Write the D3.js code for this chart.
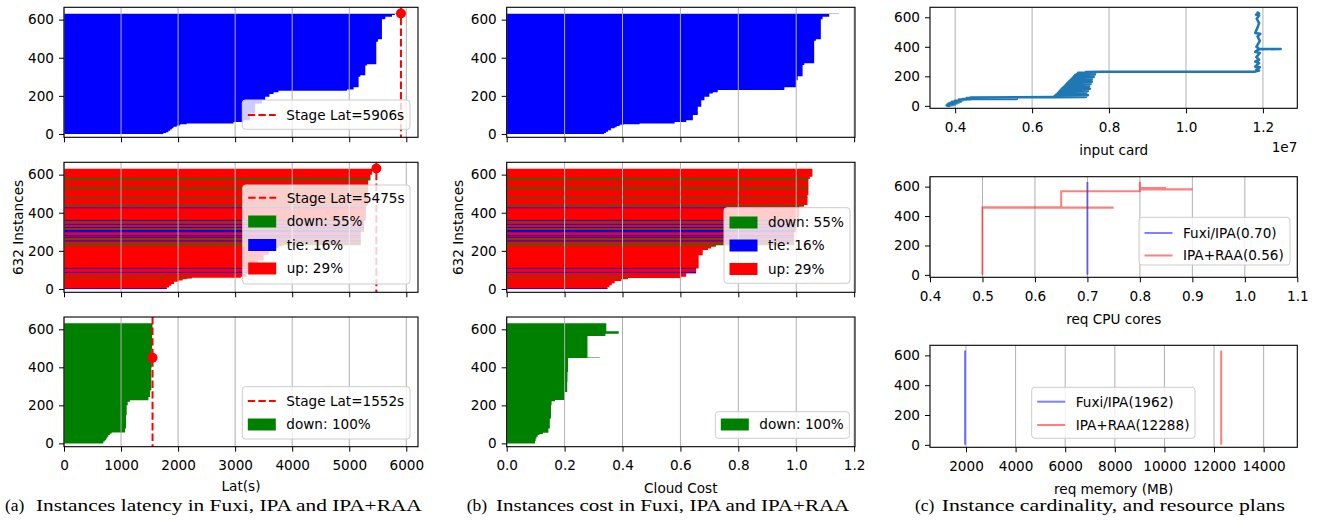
<!DOCTYPE html>
<html><head><meta charset="utf-8">
<script src="https://cdn.jsdelivr.net/npm/d3@7"></script>
<style>body{margin:0;background:#fff}</style>
</head><body><svg id="c" width="1322" height="520" style="background:#fff"></svg>
<script>
// ---------------- DATA ----------------
const N = 632;
const yTicks = [0, 200, 400, 600];
const latTicks = [0, 1000, 2000, 3000, 4000, 5000, 6000];
const costTicks = [0, 0.2, 0.4, 0.6, 0.8, 1.0, 1.2];
const cardTicks = [0.4, 0.6, 0.8, 1.0, 1.2];
const cpuTicks = [0.4, 0.5, 0.6, 0.7, 0.8, 0.9, 1.0, 1.1];
const memTicks = [2000, 4000, 6000, 8000, 10000, 12000, 14000];

// step profiles: [first instance index, bar value] (holds until next entry)
const fuxiLat = [[0,1743],[5,1790],[10,1830],[17,1860],[24,1890],[30,1918],[38,1977],[45,2035],[51,2152],[56,2971],[63,3146],[73,3263],[108,3351],[161,3468],[178,3526],[196,3602],[210,3673],[219,3760],[227,4959],[234,5076],[245,5164],[301,5193],[308,5281],[360,5310],[367,5474],[485,5503],[497,5573],[602,5632],[616,5749],[625,5800],[630,5836],[631,5906]];
const ipaLat = [[0,1801],[8,1840],[17,1880],[26,1930],[38,2006],[45,2080],[51,2152],[56,2240],[59,3100],[65,3200],[80,3300],[100,3400],[150,3500],[180,3590],[200,3680],[215,3760],[225,3830],[230,5200],[300,5260],[360,5290],[430,5300],[440,5330],[570,5370],[600,5400],[625,5430],[631,5475]];
const raaLat = [[0,690],[10,715],[17,737],[26,758],[35,778],[44,805],[52,837],[58,1070],[79,1088],[149,1099],[201,1117],[219,1158],[227,1480],[245,1509],[280,1530],[400,1540],[500,1545],[600,1550]];
const fuxiCost = [[0,0.336],[6,0.343],[12,0.350],[20,0.360],[30,0.373],[36,0.380],[42,0.390],[49,0.404],[52,0.459],[56,0.580],[63,0.620],[73,0.643],[100,0.660],[143,0.672],[178,0.683],[196,0.700],[213,0.712],[220,0.729],[231,0.959],[245,0.999],[283,1.005],[304,1.022],[362,1.028],[371,1.062],[490,1.068],[497,1.085],[602,1.091],[616,1.114],[630,1.148]];
const ipaCost = [[0,0.348],[10,0.355],[20,0.363],[30,0.373],[42,0.396],[52,0.419],[58,0.603],[65,0.620],[82,0.654],[108,0.663],[178,0.677],[205,0.695],[213,0.706],[222,0.723],[230,0.993],[300,1.000],[360,1.010],[432,1.027],[441,1.039],[493,1.042],[577,1.047],[590,1.056],[631,1.064]];
const raaCost = [[0,0.098],[13,0.100],[26,0.103],[35,0.107],[44,0.113],[50,0.125],[56,0.144],[79,0.149],[131,0.153],[201,0.155],[222,0.167],[229,0.201],[271,0.209],[324,0.210],[376,0.212],[450,0.321],[452,0.279],[565,0.341],[577,0.387],[590,0.344]];

// IPA vs Fuxi outcome per instance (default "up"): [first index, count, kind]
const ipaChange = [[0,4,'tie'],[57,4,'down'],[85,5,'tie'],[106,5,'tie'],[231,9,'down'],[250,5,'tie'],[258,5,'down'],[270,5,'tie'],[279,5,'tie'],[298,12,'tie'],[313,5,'down'],[321,5,'tie'],[337,5,'tie'],[349,5,'down'],[358,5,'tie'],[424,5,'tie'],[437,5,'down'],[477,5,'down'],[525,4,'down'],[538,4,'down'],[574,8,'down']];

const stageLat = [5906, 5475, 1552];
const stageDotIdx = [632, 632, 450];
const stageLabels = ["Stage Lat=5906s", "Stage Lat=5475s", "Stage Lat=1552s"];
const ipaShareLabels = ["down: 55%", "tie: 16%", "up: 29%"];
const raaShareLabels = ["down: 100%"];

// input cardinality (x 1e7) vs instance index
const cardPts = [[0.385,0],[0.378,3],[0.395,6],[0.38,9],[0.40,12],[0.383,15],[0.405,18],[0.388,21],[0.41,24],[0.392,27],[0.415,30],[0.40,34],[0.42,38],[0.41,42],[0.44,45],[0.42,46],[0.56,47],[0.43,49],[0.47,51],[0.43,53],[0.50,55],[0.44,57],[0.655,59],[0.74,61],[0.658,64],[0.725,67],[0.66,70],[0.745,73],[0.663,76],[0.72,79],[0.666,82],[0.74,85],[0.668,88],[0.73,92],[0.67,96],[0.745,100],[0.673,104],[0.735,108],[0.676,112],[0.75,116],[0.679,120],[0.735,124],[0.682,128],[0.748,132],[0.685,136],[0.74,140],[0.688,144],[0.752,148],[0.691,152],[0.745,156],[0.694,160],[0.755,164],[0.697,168],[0.748,172],[0.70,176],[0.755,180],[0.703,184],[0.75,188],[0.706,192],[0.76,196],[0.709,200],[0.755,204],[0.712,208],[0.763,212],[0.716,216],[0.758,220],[0.72,224],[0.765,227],[0.74,229],[0.78,231],[1.18,232],[1.19,240],[1.183,246],[1.192,262],[1.18,266],[1.19,290],[1.18,300],[1.19,312],[1.183,330],[1.192,358],[1.18,366],[1.19,384],[1.246,385],[1.19,386],[1.183,400],[1.192,440],[1.186,470],[1.193,488],[1.18,494],[1.186,530],[1.19,560],[1.184,590],[1.19,612],[1.182,618],[1.19,626],[1.186,631]];

const cpuFuxi = [[0.7,0],[0.7,632]];
const cpuRaa = [[0.5,0],[0.5,456],[0.75,456],[0.5,457],[0.75,458],[0.5,459],[0.65,460],[0.65,568],[0.8,568],[0.8,580],[0.9,581],[0.8,582],[0.9,583],[0.8,584],[0.85,590],[0.8,591],[0.8,634]];
const memFuxi = [[1962,0],[1962,632]];
const memRaa = [[12288,0],[12288,632]];
const cpuLegend = ["Fuxi/IPA(0.70)", "IPA+RAA(0.56)"];
const memLegend = ["Fuxi/IPA(1962)", "IPA+RAA(12288)"];

const captions = [["(a)", "Instances latency in Fuxi, IPA and IPA+RAA"],
                  ["(b)", "Instances cost in Fuxi, IPA and IPA+RAA"],
                  ["(c)", "Instance cardinality, and resource plans"]];
const yLabel = "632 Instances";

// ---------------- DRAWING ----------------
const COLORS = {down:'#008000', tie:'#0000ff', up:'#ff0000'};
const FONT = '"DejaVu Sans", sans-serif';
const FS = 13.6;
const svg = d3.select('#c');
svg.append('rect').attr('width',1322).attr('height',520).attr('fill','#fff');
let clipN = 0;

function panel(o){
  const g = svg.append('g');
  const x = d3.scaleLinear().domain(o.xd).range([o.l, o.r]);
  const y = d3.scaleLinear().domain(o.yd).range([o.b, o.t]);
  const id = 'clip' + (clipN++);
  svg.append('clipPath').attr('id', id).append('rect')
     .attr('x', o.l).attr('y', o.t).attr('width', o.r - o.l).attr('height', o.b - o.t);
  const bars = g.append('g').attr('clip-path', `url(#${id})`);
  const grid = g.append('g');
  const lines = g.append('g').attr('clip-path', `url(#${id})`);
  const top = g.append('g');
  grid.selectAll('line').data(o.xt).join('line')
    .attr('x1', d => x(d)).attr('x2', d => x(d)).attr('y1', o.t).attr('y2', o.b)
    .attr('stroke', '#b0b0b0').attr('stroke-width', 1);
  return {g, x, y, bars, lines, top, o};
}
function finish(p){
  const {g, x, y, o} = p;
  g.append('rect').attr('x', o.l).attr('y', o.t).attr('width', o.r - o.l).attr('height', o.b - o.t)
    .attr('fill', 'none').attr('stroke', '#000').attr('stroke-width', 1.1);
  const xa = d3.axisBottom(x).tickValues(o.xt).tickSize(5)
    .tickFormat(o.showX ? o.fmt : () => '');
  const gx = g.append('g').attr('transform', `translate(0,${o.b})`).call(xa);
  gx.select('.domain').remove();
  gx.selectAll('line').attr('stroke', '#000').attr('stroke-width', 1);
  gx.selectAll('text').attr('font-size', FS).attr('font-family', FONT).attr('fill', '#000')
    .attr('y', 23.5).attr('dy', null);
  const ya = d3.axisLeft(y).tickValues(yTicks).tickSize(5).tickPadding(5);
  const gy = g.append('g').attr('transform', `translate(${o.l},0)`).call(ya);
  gy.select('.domain').remove();
  gy.selectAll('line').attr('stroke', '#000').attr('stroke-width', 1);
  gy.selectAll('text').attr('font-size', FS).attr('font-family', FONT).attr('fill', '#000');
}
function lookup(profile, idx){
  let v = profile[0][1];
  for (const s of profile) if (s[0] <= idx) v = s[1];
  return v;
}
// bars of one panel drawn as one stepped shape (no seams between neighbouring bars)
function drawProfile(p, profile, color){
  const pts = profile.concat([[N, profile[profile.length - 1][1]]]);
  const area = d3.area()
    .y(d => p.y(d[0] - 0.5))
    .x0(p.x(0)).x1(d => p.x(d[1]))
    .curve(d3.curveStepBefore);
  p.bars.append('path').attr('d', area(pts)).attr('fill', color);
}
function drawStripes(p, profile){
  p.bars.selectAll(null).data(ipaChange).join('rect')
    .attr('x', p.x(0)).attr('width', d => p.x(lookup(profile, d[0])) - p.x(0))
    .attr('y', d => p.y(d[0] + d[1] - 0.5)).attr('height', d => p.y(d[0] - 0.5) - p.y(d[0] + d[1] - 0.5))
    .attr('fill', d => COLORS[d[2]]);
}
function stage(p, k){
  p.lines.append('line').attr('x1', p.x(stageLat[k])).attr('x2', p.x(stageLat[k]))
    .attr('y1', p.o.t).attr('y2', p.o.b).attr('stroke', '#ff0000').attr('stroke-width', 2)
    .attr('stroke-dasharray', '7.4,3.2');
  p.top.append('circle').attr('cx', p.x(stageLat[k])).attr('cy', p.y(stageDotIdx[k])).attr('r', 5)
    .attr('fill', '#ff0000');
}
function legend(p, box, items){
  const L = p.top.append('g');
  L.append('rect').attr('x', box[0]).attr('y', box[1]).attr('width', box[2] - box[0]).attr('height', box[3] - box[1])
    .attr('rx', 3).attr('fill', '#fff').attr('fill-opacity', 0.8).attr('stroke', '#cccccc').attr('stroke-width', 1);
  items.forEach(it => {
    const x0 = box[0] + 5.5, x1 = box[0] + 33.5;
    if (it.kind === 'dash') L.append('line').attr('x1', x0).attr('x2', x1).attr('y1', it.y).attr('y2', it.y)
      .attr('stroke', '#ff0000').attr('stroke-width', 2).attr('stroke-dasharray', '7.4,3.2');
    if (it.kind === 'patch') L.append('rect').attr('x', x0).attr('y', it.y - 6).attr('width', x1 - x0).attr('height', 12)
      .attr('fill', it.color);
    if (it.kind === 'line') L.append('line').attr('x1', x0).attr('x2', x1).attr('y1', it.y).attr('y2', it.y)
      .attr('stroke', it.color).attr('stroke-opacity', 0.5).attr('stroke-width', 2);
    L.append('text').attr('x', box[0] + 44).attr('y', it.y).attr('dy', '0.36em')
      .attr('font-size', FS).attr('font-family', FONT).attr('fill', '#000').text(it.label);
  });
}
function text(x, y, s, anchor, extra){
  const t = svg.append('text').attr('x', x).attr('y', y).attr('text-anchor', anchor || 'middle')
    .attr('font-size', FS).attr('font-family', FONT).attr('fill', '#000').text(s);
  if (extra) extra(t);
  return t;
}

const colA = {l: 64, r: 418}, colB = {l: 506.7, r: 855}, colC = {l: 930, r: 1297.3};
const rowsAB = [[7.3, 137.3], [162.3, 292.3], [317, 446.7]];
const rowsC = [[7.3, 108.3], [176.7, 277.3], [345.3, 447.3]];
const ydAB = [-17.5, 664.7], ydC = [-16.5, 667.5];

// Column (a): latency
const latProfiles = [fuxiLat, ipaLat, raaLat];
latProfiles.forEach((prof, k) => {
  const p = panel({...colA, t: rowsAB[k][0], b: rowsAB[k][1], xd: [0, 6205], yd: ydAB, xt: latTicks, showX: k === 2, fmt: d3.format('d')});
  drawProfile(p, prof, k === 0 ? COLORS.tie : (k === 1 ? COLORS.up : COLORS.down));
  if (k === 1) drawStripes(p, prof);
  stage(p, k);
  finish(p);
  if (k === 0) legend(p, [242.3, 100, 410, 129.3], [{kind: 'dash', y: 115, label: stageLabels[0]}]);
  if (k === 1) legend(p, [242.7, 185, 410, 284], [
    {kind: 'dash', y: 197.7, label: stageLabels[1]},
    {kind: 'patch', y: 221.5, color: COLORS.down, label: ipaShareLabels[0]},
    {kind: 'patch', y: 245, color: COLORS.tie, label: ipaShareLabels[1]},
    {kind: 'patch', y: 268.5, color: COLORS.up, label: ipaShareLabels[2]}]);
  if (k === 2) legend(p, [242.3, 386.7, 410, 439], [
    {kind: 'dash', y: 401, label: stageLabels[2]},
    {kind: 'patch', y: 424.5, color: COLORS.down, label: raaShareLabels[0]}]);
});

// Column (b): cost
const costProfiles = [fuxiCost, ipaCost, raaCost];
costProfiles.forEach((prof, k) => {
  const p = panel({...colB, t: rowsAB[k][0], b: rowsAB[k][1], xd: [0, 1.203], yd: ydAB, xt: costTicks, showX: k === 2, fmt: d3.format('.1f')});
  drawProfile(p, prof, k === 0 ? COLORS.tie : (k === 1 ? COLORS.up : COLORS.down));
  if (k === 1) drawStripes(p, prof);
  finish(p);
  if (k === 1) legend(p, [724, 207.7, 850, 283.3], [
    {kind: 'patch', y: 222.5, color: COLORS.down, label: ipaShareLabels[0]},
    {kind: 'patch', y: 245.5, color: COLORS.tie, label: ipaShareLabels[1]},
    {kind: 'patch', y: 269, color: COLORS.up, label: ipaShareLabels[2]}]);
  if (k === 2) legend(p, [715.3, 411.7, 849.3, 438.3], [
    {kind: 'patch', y: 424.5, color: COLORS.down, label: raaShareLabels[0]}]);
});

// Column (c)
{
  const p = panel({...colC, t: rowsC[0][0], b: rowsC[0][1], xd: [0.3346, 1.2894], yd: ydC, xt: cardTicks, showX: true, fmt: d3.format('.1f')});
  const line = d3.line().x(d => p.x(d[0])).y(d => p.y(d[1]));
  p.lines.append('path').attr('d', line(cardPts)).attr('fill', 'none').attr('stroke', '#1f77b4')
    .attr('stroke-width', 2.6).attr('stroke-linejoin', 'round').attr('stroke-linecap', 'round');
  finish(p);
}
{
  const p = panel({...colC, t: rowsC[1][0], b: rowsC[1][1], xd: [0.4, 1.1], yd: ydC, xt: cpuTicks, showX: true, fmt: d3.format('.1f')});
  const line = d3.line().x(d => p.x(d[0])).y(d => p.y(d[1]));
  p.lines.append('path').attr('d', line(cpuFuxi)).attr('fill', 'none').attr('stroke', '#0000ff').attr('stroke-opacity', 0.5).attr('stroke-width', 2);
  p.lines.append('path').attr('d', line(cpuRaa)).attr('fill', 'none').attr('stroke', '#ff0000').attr('stroke-opacity', 0.5).attr('stroke-width', 2);
  finish(p);
  legend(p, [1139, 217.3, 1290, 265], [
    {kind: 'line', y: 233, color: '#0000ff', label: cpuLegend[0]},
    {kind: 'line', y: 255.5, color: '#ff0000', label: cpuLegend[1]}]);
}
{
  const p = panel({...colC, t: rowsC[2][0], b: rowsC[2][1], xd: [549, 15357], yd: ydC, xt: memTicks, showX: true, fmt: d3.format('d')});
  const line = d3.line().x(d => p.x(d[0])).y(d => p.y(d[1]));
  p.lines.append('path').attr('d', line(memFuxi)).attr('fill', 'none').attr('stroke', '#0000ff').attr('stroke-opacity', 0.5).attr('stroke-width', 2);
  p.lines.append('path').attr('d', line(memRaa)).attr('fill', 'none').attr('stroke', '#ff0000').attr('stroke-opacity', 0.5).attr('stroke-width', 2);
  finish(p);
  legend(p, [1031.7, 387.3, 1195, 438.3], [
    {kind: 'line', y: 401.7, color: '#0000ff', label: memLegend[0]},
    {kind: 'line', y: 425, color: '#ff0000', label: memLegend[1]}]);
}

// axis labels
text(18.3, 227.5, yLabel, 'middle', t => t.attr('transform', 'rotate(-90,18.3,227.5)').attr('dy', '0.36em'));
text(458.3, 227.5, yLabel, 'middle', t => t.attr('transform', 'rotate(-90,458.3,227.5)').attr('dy', '0.36em'));
text(241, 491, "Lat(s)");
text(680.8, 492.5, "Cloud Cost");
text(1113.7, 154.5, "input card");
text(1297.3, 152, "1e7", 'end');
text(1113.7, 323.5, "req CPU cores");
text(1113.7, 493.5, "req memory (MB)");

// captions
const capPos = [[5, 36, 421.7, 17.5], [466.7, 496, 849.3, 17.5], [915, 941.7, 1285, 17.5]];
captions.forEach((c, i) => {
  const [xa, xb, xe, fs] = capPos[i];
  svg.append('text').attr('x', xa).attr('y', 510.5).attr('font-family', '"Liberation Serif", serif')
    .attr('font-size', fs).attr('fill', '#000').text(c[0]);
  svg.append('text').attr('x', xb).attr('y', 510.5).attr('font-family', '"Liberation Serif", serif')
    .attr('font-size', fs).attr('fill', '#000').attr('textLength', xe - xb).attr('lengthAdjust', 'spacingAndGlyphs').text(c[1]);
});
</script></body></html>
